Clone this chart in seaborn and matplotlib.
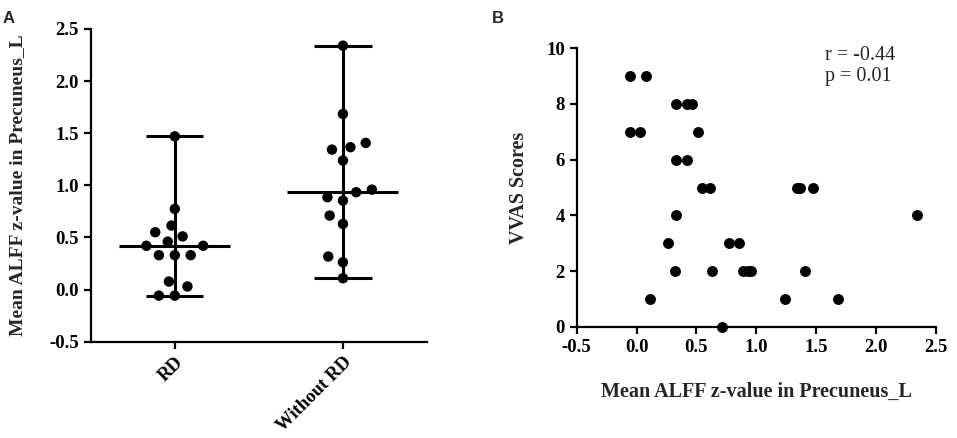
import matplotlib
matplotlib.use("Agg")
import matplotlib.pyplot as plt
import seaborn as sns
import pandas as pd

# mean ALFF z-value in Precuneus_L, one value per subject
rd_alff = [-0.058, -0.058, 0.03, 0.077, 0.33, 0.33, 0.33, 0.42, 0.42, 0.46, 0.51, 0.55, 0.614, 0.774, 1.47]
nord_alff = [0.109, 0.262, 0.317, 0.63, 0.71, 0.854, 0.886, 0.934, 0.959, 1.238, 1.343, 1.366, 1.407, 1.685, 2.34]
# VVAS score of the same subjects (same order)
rd_vvas = [9, 7, 7, 9, 8, 6, 4, 8, 6, 8, 7, 5, 5, 3, 5]
nord_vvas = [1, 3, 2, 2, 0, 3, 2, 2, 2, 1, 5, 5, 2, 1, 4]
groups = ["RD", "Without RD"]
r_text = "r = -0.44"
p_text = "p = 0.01"

df = pd.DataFrame({
    "group": [groups[0]] * len(rd_alff) + [groups[1]] * len(nord_alff),
    "alff": rd_alff + nord_alff,
    "vvas": rd_vvas + nord_vvas,
})

sns.set_style("ticks")
plt.rcParams["font.family"] = ["Liberation Serif", "DejaVu Serif"]
plt.rcParams["axes.linewidth"] = 1.6
plt.rcParams["xtick.major.width"] = 1.6
plt.rcParams["ytick.major.width"] = 1.6
plt.rcParams["xtick.major.size"] = 5
plt.rcParams["ytick.major.size"] = 5
plt.rcParams["xtick.color"] = "black"
plt.rcParams["ytick.color"] = "black"
plt.rcParams["axes.edgecolor"] = "black"

fig = plt.figure(figsize=(9.57, 4.38), dpi=100)
ax1 = fig.add_axes([0.0948, 0.2199, 0.3514, 0.7139])
ax2 = fig.add_axes([0.6026, 0.2541, 0.3754, 0.6356])

# --- panel A: scatter dot plot with median and range
# invisible edge only widens the swarm spacing (GraphPad leaves gaps between dots)
sns.swarmplot(data=df, x="group", y="alff", order=groups, color="black",
              size=7.5, linewidth=3.4, edgecolor="none", ax=ax1, clip_on=False, zorder=3)
stats = df.groupby("group")["alff"].agg(["median", "min", "max"]).reindex(groups)
for i, (g, row) in enumerate(stats.iterrows()):
    ax1.hlines(row["median"], i - 0.33, i + 0.33, color="black", lw=2.2, zorder=2)
    ax1.vlines(i, row["min"], row["max"], color="black", lw=2.2, zorder=2)
    ax1.hlines([row["min"], row["max"]], i - 0.17, i + 0.17, color="black", lw=2.2, zorder=2)

ax1.set_xlim(-0.5, 1.5)
ax1.set_ylim(-0.5, 2.5)
ax1.set_yticks([-0.5, 0.0, 0.5, 1.0, 1.5, 2.0, 2.5])
ax1.set_yticklabels(["-0.5", "0.0", "0.5", "1.0", "1.5", "2.0", "2.5"])
ax1.set_xlabel("")
ax1.set_ylabel("Mean ALFF z-value in Precuneus_L", fontsize=14, fontweight="bold", labelpad=17)
for lab in ax1.get_xticklabels():
    lab.set_rotation(45)
    lab.set_ha("right")
    lab.set_rotation_mode("anchor")
ax1.tick_params(labelsize=13.5)
for lab in ax1.get_xticklabels() + ax1.get_yticklabels():
    lab.set_fontweight("bold")
sns.despine(ax=ax1)

# --- panel B: correlation scatter
sns.scatterplot(data=df, x="alff", y="vvas", color="black", s=62, linewidth=0,
                ax=ax2, clip_on=False, zorder=3)
ax2.set_xlim(-0.5, 2.5)
ax2.set_ylim(0, 10)
ax2.set_xticks([-0.5, 0.0, 0.5, 1.0, 1.5, 2.0, 2.5])
ax2.set_xticklabels(["-0.5", "0.0", "0.5", "1.0", "1.5", "2.0", "2.5"])
ax2.set_yticks([0, 2, 4, 6, 8, 10])
ax2.set_xlabel("Mean ALFF z-value in Precuneus_L", fontsize=14.5, fontweight="bold", labelpad=19)
ax2.set_ylabel("VVAS Scores", fontsize=14.5, fontweight="bold", labelpad=12)
ax2.tick_params(labelsize=13.5)
for lab in ax2.get_xticklabels() + ax2.get_yticklabels():
    lab.set_fontweight("bold")
ax2.text(0.69, 1.01, r_text + "\n" + p_text, transform=ax2.transAxes,
         fontsize=14.5, va="top", ha="left", linespacing=1.15)
sns.despine(ax=ax2)

fig.text(0.003, 0.975, "A", fontsize=12, fontweight="bold", family="Liberation Sans", va="top")
fig.text(0.514, 0.975, "B", fontsize=12, fontweight="bold", family="Liberation Sans", va="top")

fig.savefig("out.png", dpi=100)
